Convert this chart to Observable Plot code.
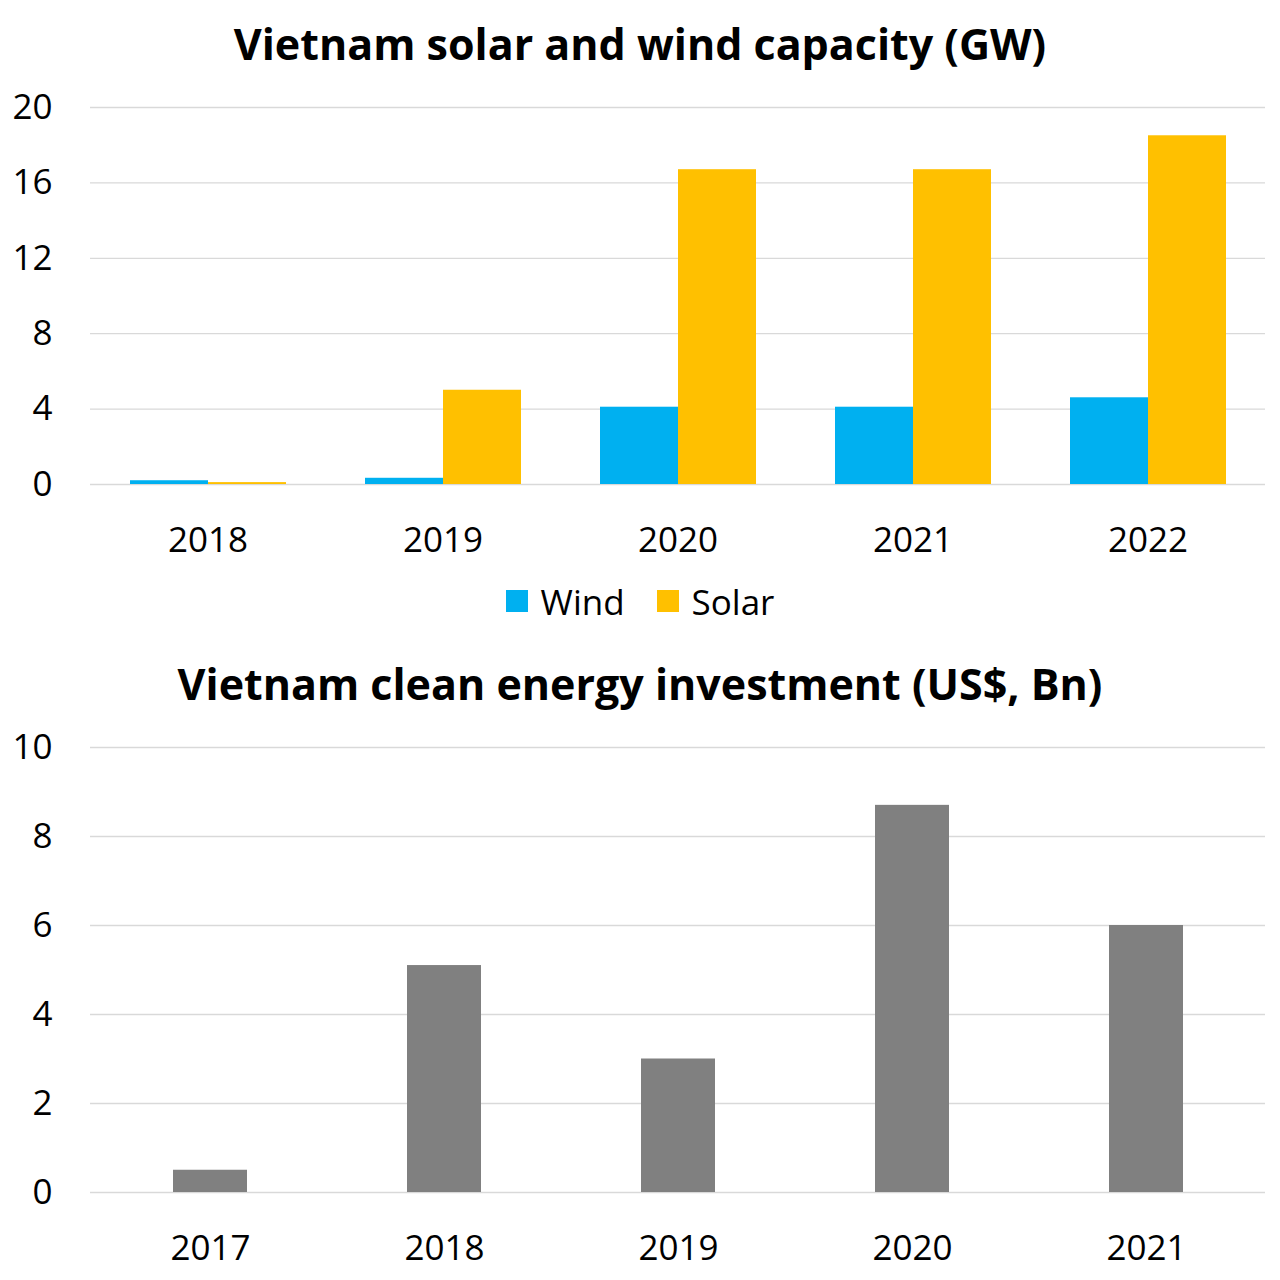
<!DOCTYPE html>
<html><head><meta charset="utf-8">
<script src="https://cdn.jsdelivr.net/npm/d3@7"></script>
<script src="https://cdn.jsdelivr.net/npm/@observablehq/plot@0.6"></script>
<style>
body{margin:0;background:#fff;font-family:"Open Sans",sans-serif;}
#wrap{position:relative;width:1280px;height:1280px;overflow:hidden;background:#fff}
.title{position:absolute;left:0;width:1280px;text-align:center;font-weight:700;font-size:43px;line-height:50px;color:#000;white-space:nowrap}
.chart{position:absolute;left:0}
#legend{position:absolute;left:0;width:1280px;top:579px;height:44px;display:flex;justify-content:center;align-items:center;font-size:35px;color:#000}
.item{display:flex;align-items:center;margin:0 16px}
.sw{width:22px;height:22px;margin-right:13px}
</style></head>
<body><div id="wrap">
<div class="title" style="top:19px">Vietnam solar and wind capacity (GW)</div>
<div class="chart" id="c1" style="top:80px"></div>
<div id="legend"></div>
<div class="title" style="top:659px">Vietnam clean energy investment (US$, Bn)</div>
<div class="chart" id="c2" style="top:720px"></div>
</div>
<script>
const capYears = ["2018","2019","2020","2021","2022"];
const seriesNames = ["Wind","Solar"];
const seriesColors = ["#00B0F0","#FFC000"];
const windGW = [0.2, 0.33, 4.1, 4.1, 4.6];
const solarGW = [0.1, 5.0, 16.7, 16.7, 18.5];
const capTicks = [0,4,8,12,16,20];

const invYears = ["2017","2018","2019","2020","2021"];
const investment = [0.5, 5.1, 3.0, 8.7, 6.0];
const invTicks = [0,2,4,6,8,10];
const invColor = "#808080";
const gridColor = "#d9d9d9";

const capData = [];
capYears.forEach((yr,i)=>{
  capData.push({year:yr, series:"Wind", value:windGW[i]});
  capData.push({year:yr, series:"Solar", value:solarGW[i]});
});
const invData = invYears.map((yr,i)=>({year:yr, value:investment[i]}));

const baseStyle = {fontFamily:"'Open Sans', sans-serif", fontSize:"35px", color:"#000", background:"transparent", overflow:"visible"};

const p1 = Plot.plot({
  width:1280, height:490, marginLeft:90, marginRight:15, marginTop:27, marginBottom:86,
  style: baseStyle,
  fx:{domain:capYears, paddingInner:0, paddingOuter:0, label:null, axis:"bottom", tickSize:0, tickPadding:43},
  x:{domain:seriesNames, paddingInner:0, paddingOuter:0.506, axis:null},
  y:{domain:[0,20], ticks:capTicks, tickFormat:d=>String(d), label:null, tickSize:0, tickPadding:38},
  color:{domain:seriesNames, range:seriesColors},
  marks:[
    Plot.gridY(capTicks, {stroke:gridColor, strokeOpacity:1, strokeWidth:1.3}),
    Plot.barY(capData, {fx:"year", x:"series", y:"value", fill:"series"})
  ]
});
document.getElementById("c1").appendChild(p1);

const lg = document.getElementById("legend");
seriesNames.forEach((s,i)=>{
  const it = document.createElement("div"); it.className="item";
  const sw = document.createElement("div"); sw.className="sw"; sw.style.background=seriesColors[i];
  const tx = document.createElement("span"); tx.textContent=s;
  it.appendChild(sw); it.appendChild(tx); lg.appendChild(it);
});

const p2 = Plot.plot({
  width:1280, height:560, marginLeft:90, marginRight:15, marginTop:27, marginBottom:88,
  style: baseStyle,
  x:{domain:invYears, paddingInner:0.685, paddingOuter:0.35, label:null, tickSize:0, tickPadding:43},
  y:{domain:[0,10], ticks:invTicks, tickFormat:d=>String(d), label:null, tickSize:0, tickPadding:38},
  marks:[
    Plot.gridY(invTicks, {stroke:gridColor, strokeOpacity:1, strokeWidth:1.3}),
    Plot.barY(invData, {x:"year", y:"value", fill:invColor})
  ]
});
document.getElementById("c2").appendChild(p2);
</script>
</body></html>
